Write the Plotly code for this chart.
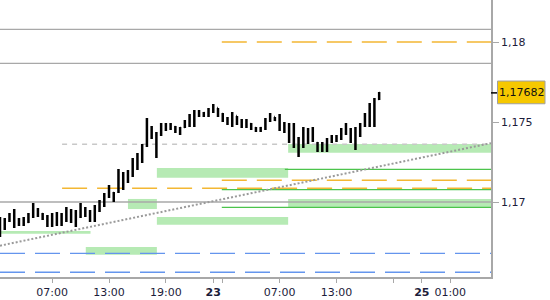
import plotly.graph_objects as go

# ---- data -----------------------------------------------------------
# bar times: hours since day 22 00:00 (30-minute bars)
bar_hours = [1.5 + 0.5 * i for i in range(81)]

opens = [1.16888, 1.16838, 1.16888, 1.16919, 1.16863, 1.16888, 1.16875, 1.16919, 1.16950, 1.16925,
         1.16906, 1.16863, 1.16913, 1.16875, 1.16919, 1.16938, 1.16888, 1.16938, 1.16950, 1.16931,
         1.16900, 1.16963, 1.17000, 1.17038, 1.17056, 1.17075, 1.17169, 1.17138, 1.17188, 1.17250,
         1.17288, 1.17356, 1.17450, 1.17419, 1.17431, 1.17475, 1.17463, 1.17469, 1.17450, 1.17469,
         1.17500, 1.17538, 1.17563, 1.17544, 1.17556, 1.17575, 1.17588, 1.17550, 1.17513, 1.17494,
         1.17538, 1.17500, 1.17481, 1.17488, 1.17463, 1.17450, 1.17463, 1.17513, 1.17531, 1.17525,
         1.17463, 1.17481, 1.17388, 1.17388, 1.17350, 1.17450, 1.17388, 1.17369, 1.17325, 1.17350,
         1.17381, 1.17406, 1.17400, 1.17444, 1.17450, 1.17400, 1.17438, 1.17481, 1.17538, 1.17513,
         1.17644]
highs = [1.16906, 1.16900, 1.16931, 1.16956, 1.16900, 1.16906, 1.16931, 1.16994, 1.16963, 1.16931,
         1.16919, 1.16931, 1.16938, 1.16931, 1.16969, 1.16956, 1.16950, 1.16994, 1.16969, 1.16950,
         1.16981, 1.17013, 1.17056, 1.17106, 1.17063, 1.17206, 1.17188, 1.17200, 1.17275, 1.17306,
         1.17363, 1.17525, 1.17475, 1.17438, 1.17494, 1.17494, 1.17494, 1.17475, 1.17469, 1.17513,
         1.17550, 1.17575, 1.17575, 1.17563, 1.17588, 1.17613, 1.17588, 1.17556, 1.17531, 1.17563,
         1.17538, 1.17519, 1.17519, 1.17494, 1.17469, 1.17469, 1.17525, 1.17556, 1.17531, 1.17550,
         1.17500, 1.17494, 1.17494, 1.17406, 1.17469, 1.17463, 1.17469, 1.17375, 1.17375, 1.17400,
         1.17419, 1.17419, 1.17463, 1.17494, 1.17463, 1.17469, 1.17494, 1.17556, 1.17619, 1.17650,
         1.17688]
lows = [1.16781, 1.16825, 1.16875, 1.16838, 1.16850, 1.16850, 1.16869, 1.16900, 1.16906, 1.16888,
        1.16844, 1.16844, 1.16850, 1.16850, 1.16875, 1.16869, 1.16844, 1.16900, 1.16906, 1.16875,
        1.16875, 1.16938, 1.16969, 1.17025, 1.17000, 1.17056, 1.17075, 1.17119, 1.17156, 1.17200,
        1.17244, 1.17344, 1.17394, 1.17275, 1.17413, 1.17444, 1.17450, 1.17431, 1.17419, 1.17463,
        1.17469, 1.17469, 1.17531, 1.17531, 1.17531, 1.17556, 1.17531, 1.17500, 1.17481, 1.17469,
        1.17481, 1.17463, 1.17463, 1.17450, 1.17438, 1.17438, 1.17450, 1.17500, 1.17506, 1.17444,
        1.17431, 1.17369, 1.17338, 1.17281, 1.17338, 1.17363, 1.17375, 1.17313, 1.17313, 1.17313,
        1.17369, 1.17375, 1.17388, 1.17419, 1.17369, 1.17325, 1.17406, 1.17469, 1.17469, 1.17469,
        1.17638]
closes = [1.16825, 1.16888, 1.16919, 1.16863, 1.16888, 1.16875, 1.16919, 1.16950, 1.16925, 1.16906,
          1.16863, 1.16913, 1.16875, 1.16919, 1.16938, 1.16888, 1.16938, 1.16950, 1.16931, 1.16900,
          1.16963, 1.17000, 1.17038, 1.17075, 1.17038, 1.17188, 1.17125, 1.17188, 1.17250, 1.17288,
          1.17338, 1.17450, 1.17419, 1.17388, 1.17475, 1.17463, 1.17481, 1.17450, 1.17463, 1.17500,
          1.17538, 1.17563, 1.17544, 1.17556, 1.17575, 1.17594, 1.17550, 1.17513, 1.17494, 1.17538,
          1.17500, 1.17481, 1.17506, 1.17463, 1.17450, 1.17463, 1.17513, 1.17538, 1.17513, 1.17463,
          1.17488, 1.17388, 1.17463, 1.17325, 1.17450, 1.17388, 1.17450, 1.17325, 1.17356, 1.17375,
          1.17406, 1.17388, 1.17444, 1.17475, 1.17400, 1.17438, 1.17481, 1.17538, 1.17588, 1.17638,
          1.17682]

last_price = 1.17682
last_label = "1,17682"

x_start = 1.5
x_end = 53.3

# y-axis ticks
y_tickvals = [1.17, 1.175, 1.18]
y_ticktext = ["1,17", "1,175", "1,18"]

# x-axis ticks (hours since day 22 00:00)
x_tickvals = [7, 13, 19, 24, 25, 31, 37, 43, 46, 49]
x_ticktext = ["07:00", "13:00", "19:00", "<b>23</b>", "", "07:00", "13:00", "", "<b>25</b>", "01:00"]

# green zones: (start hour, end hour, low price, high price)
zones = [
    (31.9, x_end, 1.17308, 1.17363),
    (18.05, 31.9, 1.17152, 1.17213),
    (15.0, 18.05, 1.16956, 1.17019),
    (18.05, 31.9, 1.16858, 1.16906),
    (31.9, x_end, 1.16967, 1.17019),
    (x_start, 11.05, 1.16802, 1.16819),
    (10.55, 18.05, 1.16671, 1.16719),
]

# levels: (start hour, price)
gray_levels = [1.18079, 1.17867, 1.17]
green_levels = [(31.55, 1.17204), (24.9, 1.17077), (24.9, 1.16967)]
orange_levels = [(24.9, 1.18), (24.9, 1.17136), (8.05, 1.17086)]
light_dash_levels = [(8.05, 1.17361)]
blue_levels = [1.16679, 1.16561]

# dotted trend line: two anchor points
trend_x = [x_start, x_end]
trend_y = [1.16727, 1.17368]

# ---- figure ---------------------------------------------------------
fig = go.Figure()

fig.add_trace(go.Ohlc(
    x=bar_hours, open=opens, high=highs, low=lows, close=closes,
    increasing=dict(line=dict(color="black", width=2.5)),
    decreasing=dict(line=dict(color="black", width=2.5)),
    tickwidth=0.15, showlegend=False, hoverinfo="skip",
))

GREEN_FILL = "#b6eab4"
for x0, x1, y0, y1 in zones:
    fig.add_shape(type="rect", x0=x0, x1=x1, y0=y0, y1=y1, layer="below",
                  fillcolor=GREEN_FILL, line_width=0)

for y in gray_levels:
    fig.add_shape(type="line", x0=x_start, x1=x_end, y0=y, y1=y, layer="below",
                  line=dict(color="#a8a8a8", width=1.3))

for x0, y in light_dash_levels:
    fig.add_shape(type="line", x0=x0, x1=x_end, y0=y, y1=y, layer="below",
                  line=dict(color="#c8c8c8", width=1.3, dash="5px,5px"))

for x0, y in orange_levels:
    fig.add_shape(type="line", x0=x0, x1=x_end, y0=y, y1=y, layer="below",
                  line=dict(color="#f3b733", width=1.3, dash="25px,10px"))

for x0, y in green_levels:
    fig.add_shape(type="line", x0=x0, x1=x_end, y0=y, y1=y, layer="below",
                  line=dict(color="#4cc44c", width=1.3))

for y in blue_levels:
    fig.add_shape(type="line", x0=x_start, x1=x_end, y0=y, y1=y, layer="below",
                  line=dict(color="#6495ed", width=1.3, dash="25px,10px"))

fig.add_shape(type="line", x0=trend_x[0], x1=trend_x[1], y0=trend_y[0], y1=trend_y[1],
              layer="below", line=dict(color="#9a9a9a", width=2, dash="2px,2px"))

# last price marker and label
fig.add_shape(type="line", xref="paper", x0=1.0, x1=1.0 + 6 / 491, y0=last_price, y1=last_price,
              line=dict(color="black", width=1.5))
fig.add_shape(type="rect", xref="paper", x0=1.0 + 6.5 / 491, x1=1.0 + 54 / 491,
              y0=last_price - 0.00068, y1=last_price + 0.00074,
              fillcolor="#f6c800", line=dict(color="#a0a0a0", width=1))
fig.add_annotation(xref="paper", x=1.0 + 30.5 / 491, y=last_price, text=last_label,
                   showarrow=False, xanchor="center", yanchor="middle",
                   font=dict(family="DejaVu Sans", size=11, color="#111111"))

fig.update_layout(
    width=550, height=300,
    margin=dict(l=0, r=59, t=0, b=23),
    paper_bgcolor="white", plot_bgcolor="white",
    font=dict(family="DejaVu Sans", size=11, color="#1c1c3a"),
    showlegend=False,
    xaxis=dict(
        range=[x_start, x_end], rangeslider=dict(visible=False),
        showgrid=False, zeroline=False,
        showline=True, linecolor="#a8a8a8", linewidth=1.5,
        ticks="outside", ticklen=4, tickcolor="#a8a8a8",
        tickvals=x_tickvals, ticktext=x_ticktext,
        tickfont=dict(family="DejaVu Sans", size=11, color="#1c1c3a"),
    ),
    yaxis=dict(
        range=[1.1653125, 1.182625], side="right",
        showgrid=False, zeroline=False,
        showline=True, linecolor="#a8a8a8", linewidth=1.5,
        ticks="outside", ticklen=6, tickcolor="#a8a8a8",
        tickvals=y_tickvals, ticktext=y_ticktext,
        tickfont=dict(family="DejaVu Sans", size=11, color="#1c1c3a"),
    ),
)

fig.write_html("out.html")
